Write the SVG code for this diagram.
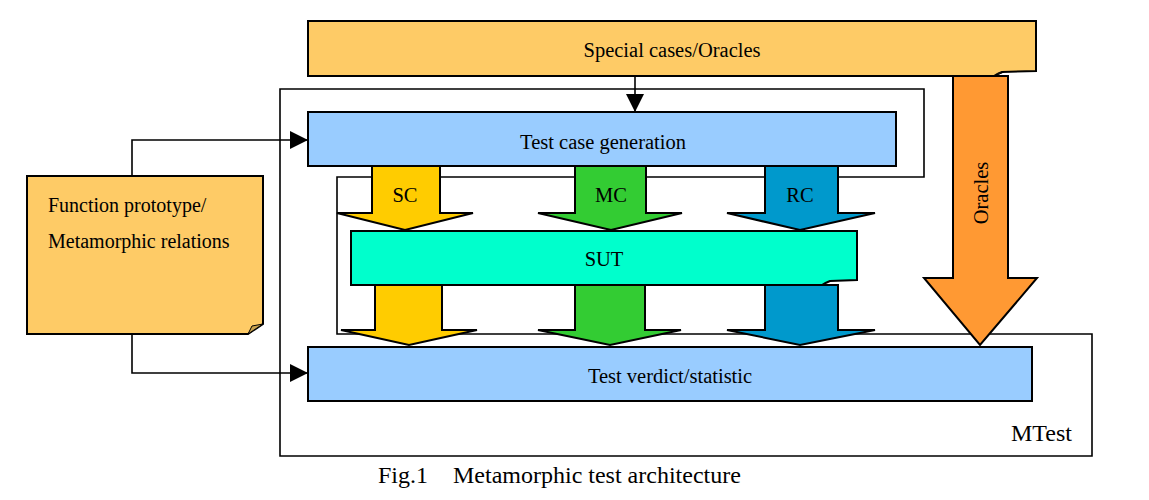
<svg xmlns="http://www.w3.org/2000/svg" width="1149" height="500" viewBox="0 0 1149 500">
<style>
text{font-family:"Liberation Serif","Times New Roman",serif;font-size:20.5px;fill:#000}
.c{text-anchor:middle}
.big{font-size:24px}
.b{stroke:#000;stroke-width:2}
.ln{fill:none;stroke:#000;stroke-width:1.6}
.blue{fill:#99CCFF}
.note{fill:#FECB66}
.fold{fill:#C9A24E;stroke:#000;stroke-width:1}
</style>
<defs>
<marker id="ah" markerUnits="userSpaceOnUse" markerWidth="20" markerHeight="20" refX="18" refY="9" orient="auto">
<path d="M0,0 L18,9 L0,18 Z" fill="#000"/>
</marker>
</defs>
<rect width="1149" height="500" fill="#fff"/>
<g id="mtest-frame">
<path class="ln" d="M280,89 H924 V177 H337 V334 H1092 V456 H280 Z"/>
<text x="1011" y="441" class="big">MTest</text>
</g>
<g id="special-cases">
<path class="note b" d="M308,21 H1036 V71 L1002,72 Q997,74 994,76 H308 Z"/>
<path class="fold" d="M994,76 Q999,72 1004,72 Z"/>
<text x="672" y="57" class="c">Special cases/Oracles</text>
</g>
<g id="oracles-arrow">
<polygon class="b" fill="#FF9933" points="953,76 1008,76 1008,278 1037,278 980,345 924,278 953,278"/>
<text transform="translate(988,193) rotate(-90)" class="c">Oracles</text>
</g>
<g id="function-prototype">
<path class="note b" d="M27,176 H263 V324 L248,334 H27 Z"/>
<path class="fold" d="M248,334 L252,326 L263,324 Z"/>
<text x="48" y="212" style="font-size:20px">Function prototype/</text>
<text x="48" y="248" style="font-size:20px">Metamorphic relations</text>
</g>
<g id="test-case-generation">
<rect class="blue b" x="308" y="112" width="588" height="54"/>
<text x="603" y="149" class="c">Test case generation</text>
</g>
<g id="sut">
<path class="b" fill="#00FFCC" d="M351,231 H857 V280 L830,281 Q825,283 822,285 H351 Z"/>
<text x="604" y="266" class="c">SUT</text>
</g>
<g id="test-verdict">
<rect class="blue b" x="308" y="347" width="724" height="54"/>
<text x="670" y="383" class="c">Test verdict/statistic</text>
</g>
<g id="sc-arrows">
<polygon class="b" fill="#FFCC00" points="372,166 440,166 440,213 473,213 405,230 337,213 372,213"/>
<text x="405" y="202" class="c">SC</text>
<polygon class="b" fill="#FFCC00" points="375,285 442,285 442,330 477,330 409,345 341,330 375,330"/>
</g>
<g id="mc-arrows">
<polygon class="b" fill="#33CC33" points="575,166 646,166 646,213 682,213 611,230 538,213 575,213"/>
<text x="611" y="202" class="c">MC</text>
<polygon class="b" fill="#33CC33" points="575,285 645,285 645,330 681,330 610,345 538,330 575,330"/>
</g>
<g id="rc-arrows">
<polygon class="b" fill="#0099CC" points="765,166 838,166 838,213 875,213 800,230 727,213 765,213"/>
<text x="800" y="202" class="c">RC</text>
<polygon class="b" fill="#0099CC" points="765,285 838,285 838,330 875,330 800,345 727,330 765,330"/>
</g>
<g id="connectors">
<path class="ln" d="M635,76 V112" marker-end="url(#ah)"/>
<path class="ln" d="M132,176 V140 H308" marker-end="url(#ah)"/>
<path class="ln" d="M132,334 V373 H308" marker-end="url(#ah)"/>
</g>
<g id="caption">
<text x="378" y="483" class="big">Fig.1</text>
<text x="453" y="483" class="big">Metamorphic test architecture</text>
</g>
</svg>
